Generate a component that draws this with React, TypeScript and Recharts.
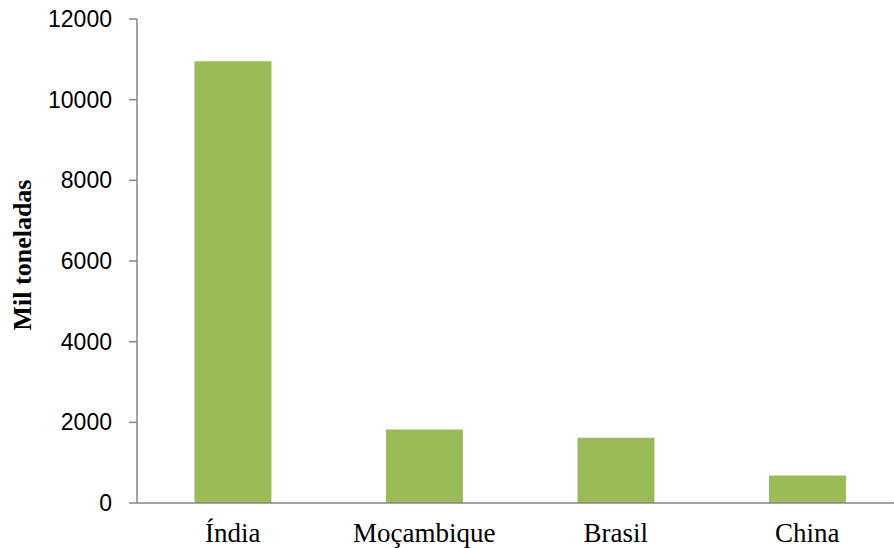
import { BarChart, Bar, XAxis, YAxis, Label } from 'recharts'

const countries = ['Índia', 'Moçambique', 'Brasil', 'China']
const production = [10950, 1820, 1615, 680]
const yTicks = [0, 2000, 4000, 6000, 8000, 10000, 12000]

const data = countries.map((name, i) => ({ name, value: production[i] }))

export default function App() {
  return (
    <div
      style={{
        position: 'absolute',
        left: 0,
        top: 0,
        width: 894,
        height: 548,
        overflow: 'hidden',
        background: '#ffffff',
      }}
    >
      <BarChart
        width={903}
        height={548}
        data={data}
        margin={{ top: 19, right: 0, bottom: 0, left: 57 }}
        barCategoryGap="30%"
      >
        <XAxis
          dataKey="name"
          height={45}
          axisLine={{ stroke: '#868686', strokeWidth: 1.5 }}
          tickLine={false}
          tickSize={0}
          tickMargin={20}
          tick={{ fontFamily: 'Liberation Serif', fontSize: 27, fill: '#000000' }}
        />
        <YAxis
          width={80}
          domain={[0, 12000]}
          ticks={yTicks}
          interval={0}
          axisLine={{ stroke: '#868686', strokeWidth: 1.5 }}
          tickLine={{ stroke: '#868686', strokeWidth: 1.5 }}
          tickSize={8}
          tickMargin={17}
          tick={{ fontFamily: 'Liberation Sans', fontSize: 23, fill: '#000000' }}
        >
          <Label
            value="Mil toneladas"
            angle={-90}
            position="insideLeft"
            offset={0}
            dx={-35}
            dy={-6}
            style={{
              fontFamily: 'Liberation Serif',
              fontSize: 26,
              fontWeight: 'bold',
              fill: '#000000',
              textAnchor: 'middle',
            }}
          />
        </YAxis>
        <Bar dataKey="value" fill="#9BBB59" isAnimationActive={false} />
      </BarChart>
    </div>
  )
}
